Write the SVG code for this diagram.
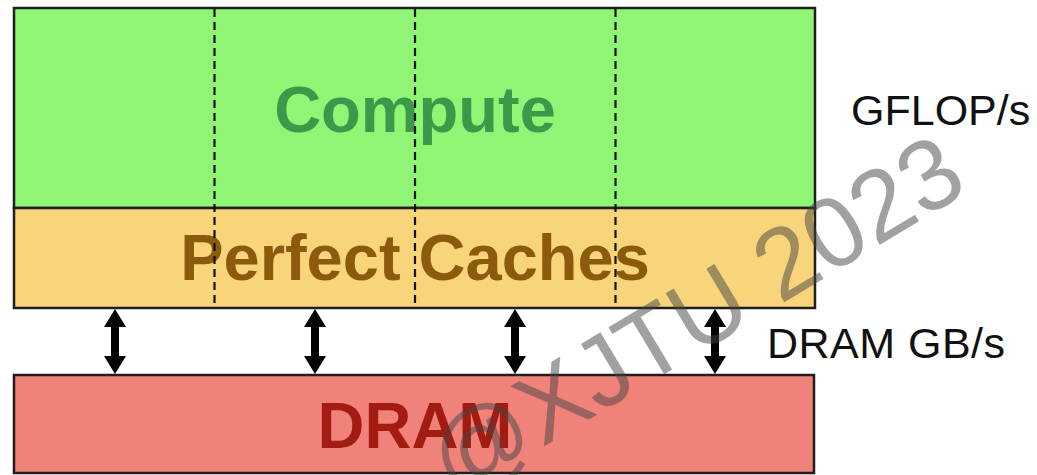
<svg xmlns="http://www.w3.org/2000/svg" width="1037" height="475" viewBox="0 0 1037 475">
<defs>
<style>
.box{stroke:#1e1e1e;stroke-width:2.5}
.dash{stroke:#111;stroke-width:2.2;stroke-dasharray:8 5;fill:none}
.big{font-family:"Liberation Sans",Arial,sans-serif;font-weight:bold;font-size:65px;text-anchor:middle}
.lab{font-family:"Liberation Sans",Arial,sans-serif;font-size:43px;fill:#111}
.arr{fill:#000}
.wm{font-family:"Liberation Sans",Arial,sans-serif;font-size:100px;fill:#444;fill-opacity:0.5}
</style>
<path id="dbl" d="M0,0 L11,18 L4,18 L4,47 L11,47 L0,65 L-11,47 L-4,47 L-4,18 L-11,18 Z"/>
</defs>
<rect x="0" y="0" width="1037" height="475" fill="#ffffff"/>
<g id="compute">
<rect class="box" x="14" y="8" width="801" height="200" fill="#90f474"/>
<text class="big" x="415" y="132" fill="#3b9a4a">Compute</text>
</g>
<g id="caches">
<rect class="box" x="14" y="208" width="801" height="100" fill="#f8d47a"/>
<text class="big" x="415" y="280" fill="#8c5a0c">Perfect Caches</text>
</g>
<g id="dividers">
<line class="dash" x1="214.5" y1="9" x2="214.5" y2="307"/>
<line class="dash" x1="415" y1="9" x2="415" y2="307"/>
<line class="dash" x1="615.5" y1="9" x2="615.5" y2="307"/>
</g>
<g id="dram">
<rect class="box" x="14" y="375" width="800" height="98" fill="#f0827a"/>
<text class="big" x="415" y="448" fill="#a21c12">DRAM</text>
</g>
<g id="connectors">
<use href="#dbl" class="arr" x="115" y="309"/>
<use href="#dbl" class="arr" x="315" y="309"/>
<use href="#dbl" class="arr" x="515" y="309"/>
<use href="#dbl" class="arr" x="715" y="309"/>
</g>
<g id="labels">
<text class="lab" x="851" y="125">GFLOP/s</text>
<text class="lab" x="767" y="358" textLength="238">DRAM GB/s</text>
</g>
<text class="wm" transform="translate(455,500) rotate(-31)">@XJTU 2023</text>
</svg>
